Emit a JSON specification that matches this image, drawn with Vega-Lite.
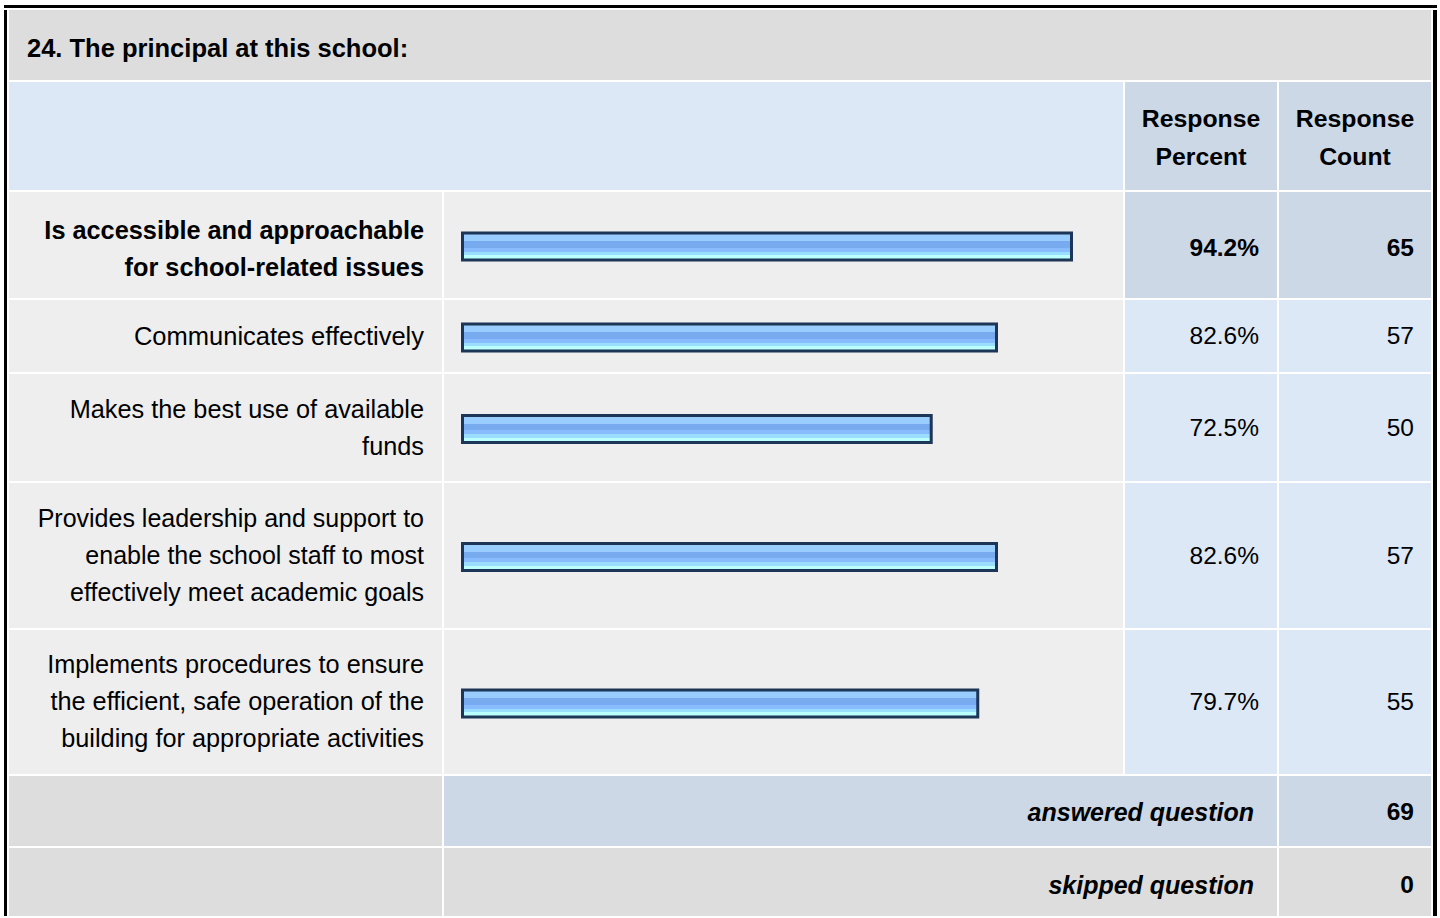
{
  "$schema": "https://vega.github.io/schema/vega-lite/v6.json",
  "background": "white",
  "padding": {"left": 4, "top": 5, "right": 0, "bottom": 0},
  "config": {"view": {"stroke": null}, "text": {"font": "Liberation Sans", "fill": "#000000"}},
  "datasets": {
    "items": [
      {"id": 1, "label": ["Is accessible and approachable", "for school-related issues"], "percent": 0.942, "count": 65},
      {"id": 2, "label": ["Communicates effectively"], "percent": 0.826, "count": 57},
      {"id": 3, "label": ["Makes the best use of available", "funds"], "percent": 0.725, "count": 50},
      {"id": 4, "label": ["Provides leadership and support to", "enable the school staff to most", "effectively meet academic goals"], "percent": 0.826, "count": 57},
      {"id": 5, "label": ["Implements procedures to ensure", "the efficient, safe operation of the", "building for appropriate activities"], "percent": 0.797, "count": 55}
    ],
    "title": [{"text": "24. The principal at this school:"}],
    "header": [{"col": "pct", "text": ["Response", "Percent"]}, {"col": "cnt", "text": ["Response", "Count"]}],
    "summary": [{"kind": "answered question", "count": 69}, {"kind": "skipped question", "count": 0}]
  },
  "spacing": 2,
  "vconcat": [
    {"width": 1433, "height": 3, "view": {"fill": "#000000", "stroke": null}, "data": {"values": []}, "mark": "text"},
    {
      "spacing": 2,
      "hconcat": [
        {"width": 3, "height": 906, "view": {"fill": "#000000", "stroke": null}, "data": {"values": []}, "mark": "text"},
        {
          "spacing": 2,
          "vconcat": [
            {"width": 1422, "height": 70, "view": {"fill": "#dddddd", "stroke": null}, "data": {"name": "title"},
             "mark": {"type": "text", "align": "left", "baseline": "middle", "dx": 18, "dy": 4, "fontSize": 25.5, "fontWeight": "bold"},
             "encoding": {"text": {"field": "text"},
               "x": {"datum": 0, "type": "quantitative", "scale": {"domain": [0, 1]}, "axis": null},
               "y": {"datum": 0.5, "type": "quantitative", "scale": {"domain": [0, 1]}, "axis": null}}},
            {"spacing": 2, "hconcat": [
              {"width": 1114, "height": 108, "view": {"fill": "#dce8f5", "stroke": null}, "data": {"values": []}, "mark": "text"},
              {"width": 152, "height": 108, "view": {"fill": "#ccd8e6", "stroke": null}, "data": {"name": "header"}, "transform": [{"filter": "datum.col == 'pct'"}],
               "mark": {"type": "text", "align": "center", "baseline": "middle", "dy": -16, "fontSize": 24.8, "fontWeight": "bold", "lineHeight": 38},
               "encoding": {"text": {"field": "text"},
                 "x": {"datum": 0.5, "type": "quantitative", "scale": {"domain": [0, 1]}, "axis": null},
                 "y": {"datum": 0.5, "type": "quantitative", "scale": {"domain": [0, 1]}, "axis": null}}},
              {"width": 152, "height": 108, "view": {"fill": "#ccd8e6", "stroke": null}, "data": {"name": "header"}, "transform": [{"filter": "datum.col == 'cnt'"}],
               "mark": {"type": "text", "align": "center", "baseline": "middle", "dy": -16, "fontSize": 24.8, "fontWeight": "bold", "lineHeight": 38},
               "encoding": {"text": {"field": "text"},
                 "x": {"datum": 0.5, "type": "quantitative", "scale": {"domain": [0, 1]}, "axis": null},
                 "y": {"datum": 0.5, "type": "quantitative", "scale": {"domain": [0, 1]}, "axis": null}}}
            ]},
            {"spacing": 2, "hconcat": [
              {"width": 433, "height": 106, "view": {"fill": "#eeeeee", "stroke": null}, "data": {"name": "items"}, "transform": [{"filter": "datum.id == 1"}],
               "mark": {"type": "text", "align": "right", "baseline": "middle", "dx": -18, "dy": -14.5, "fontSize": 25.3, "fontWeight": "bold", "lineHeight": 37},
               "encoding": {"text": {"field": "label"},
                 "x": {"datum": 1, "type": "quantitative", "scale": {"domain": [0, 1]}, "axis": null},
                 "y": {"datum": 0.5, "type": "quantitative", "scale": {"domain": [0, 1]}, "axis": null}}},
              {"width": 679, "height": 106, "view": {"fill": "#eeeeee", "stroke": null}, "data": {"name": "items"}, "transform": [{"filter": "datum.id == 1"}],
               "mark": {"type": "bar", "height": 27, "yOffset": 1.5, "stroke": "#1d3557", "strokeWidth": 3, "fill": {"gradient": "linear", "x1": 0, "y1": 0, "x2": 0, "y2": 1, "stops": [{"offset": 0, "color": "#99ccff"}, {"offset": 0.3, "color": "#99ccff"}, {"offset": 0.3, "color": "#77aaee"}, {"offset": 0.55, "color": "#77aaee"}, {"offset": 0.55, "color": "#88bbff"}, {"offset": 0.7, "color": "#88bbff"}, {"offset": 0.7, "color": "#99ddff"}, {"offset": 0.82, "color": "#99ddff"}, {"offset": 0.82, "color": "#bbffff"}, {"offset": 1, "color": "#bbffff"}]}},
               "encoding": {"x": {"field": "percent", "type": "quantitative", "scale": {"domain": [0, 1], "range": [18.5, 665]}, "axis": null},
                 "y": {"field": "id", "type": "nominal", "axis": null}}},
              {"width": 152, "height": 106, "view": {"fill": "#ccd8e6", "stroke": null}, "data": {"name": "items"}, "transform": [{"filter": "datum.id == 1"}],
               "mark": {"type": "text", "align": "right", "baseline": "middle", "dx": -18, "dy": 4, "fontSize": 24.5, "fontWeight": "bold"},
               "encoding": {"text": {"field": "percent", "type": "quantitative", "format": ".1%"},
                 "x": {"datum": 1, "type": "quantitative", "scale": {"domain": [0, 1]}, "axis": null},
                 "y": {"datum": 0.5, "type": "quantitative", "scale": {"domain": [0, 1]}, "axis": null}}},
              {"width": 152, "height": 106, "view": {"fill": "#ccd8e6", "stroke": null}, "data": {"name": "items"}, "transform": [{"filter": "datum.id == 1"}],
               "mark": {"type": "text", "align": "right", "baseline": "middle", "dx": -17, "dy": 4, "fontSize": 24.5, "fontWeight": "bold"},
               "encoding": {"text": {"field": "count", "type": "quantitative", "format": "d"},
                 "x": {"datum": 1, "type": "quantitative", "scale": {"domain": [0, 1]}, "axis": null},
                 "y": {"datum": 0.5, "type": "quantitative", "scale": {"domain": [0, 1]}, "axis": null}}}
            ]},
            {"spacing": 2, "hconcat": [
              {"width": 433, "height": 72, "view": {"fill": "#eeeeee", "stroke": null}, "data": {"name": "items"}, "transform": [{"filter": "datum.id == 2"}],
               "mark": {"type": "text", "align": "right", "baseline": "middle", "dx": -18, "dy": 1, "fontSize": 25.5, "lineHeight": 37},
               "encoding": {"text": {"field": "label"},
                 "x": {"datum": 1, "type": "quantitative", "scale": {"domain": [0, 1]}, "axis": null},
                 "y": {"datum": 0.5, "type": "quantitative", "scale": {"domain": [0, 1]}, "axis": null}}},
              {"width": 679, "height": 72, "view": {"fill": "#eeeeee", "stroke": null}, "data": {"name": "items"}, "transform": [{"filter": "datum.id == 2"}],
               "mark": {"type": "bar", "height": 27, "yOffset": 1.5, "stroke": "#1d3557", "strokeWidth": 3, "fill": {"gradient": "linear", "x1": 0, "y1": 0, "x2": 0, "y2": 1, "stops": [{"offset": 0, "color": "#99ccff"}, {"offset": 0.3, "color": "#99ccff"}, {"offset": 0.3, "color": "#77aaee"}, {"offset": 0.55, "color": "#77aaee"}, {"offset": 0.55, "color": "#88bbff"}, {"offset": 0.7, "color": "#88bbff"}, {"offset": 0.7, "color": "#99ddff"}, {"offset": 0.82, "color": "#99ddff"}, {"offset": 0.82, "color": "#bbffff"}, {"offset": 1, "color": "#bbffff"}]}},
               "encoding": {"x": {"field": "percent", "type": "quantitative", "scale": {"domain": [0, 1], "range": [18.5, 665]}, "axis": null},
                 "y": {"field": "id", "type": "nominal", "axis": null}}},
              {"width": 152, "height": 72, "view": {"fill": "#dce8f5", "stroke": null}, "data": {"name": "items"}, "transform": [{"filter": "datum.id == 2"}],
               "mark": {"type": "text", "align": "right", "baseline": "middle", "dx": -18, "dy": 1, "fontSize": 24.5},
               "encoding": {"text": {"field": "percent", "type": "quantitative", "format": ".1%"},
                 "x": {"datum": 1, "type": "quantitative", "scale": {"domain": [0, 1]}, "axis": null},
                 "y": {"datum": 0.5, "type": "quantitative", "scale": {"domain": [0, 1]}, "axis": null}}},
              {"width": 152, "height": 72, "view": {"fill": "#dce8f5", "stroke": null}, "data": {"name": "items"}, "transform": [{"filter": "datum.id == 2"}],
               "mark": {"type": "text", "align": "right", "baseline": "middle", "dx": -17, "dy": 1, "fontSize": 24.5},
               "encoding": {"text": {"field": "count", "type": "quantitative", "format": "d"},
                 "x": {"datum": 1, "type": "quantitative", "scale": {"domain": [0, 1]}, "axis": null},
                 "y": {"datum": 0.5, "type": "quantitative", "scale": {"domain": [0, 1]}, "axis": null}}}
            ]},
            {"spacing": 2, "hconcat": [
              {"width": 433, "height": 107, "view": {"fill": "#eeeeee", "stroke": null}, "data": {"name": "items"}, "transform": [{"filter": "datum.id == 3"}],
               "mark": {"type": "text", "align": "right", "baseline": "middle", "dx": -18, "dy": -18, "fontSize": 25.3, "lineHeight": 37},
               "encoding": {"text": {"field": "label"},
                 "x": {"datum": 1, "type": "quantitative", "scale": {"domain": [0, 1]}, "axis": null},
                 "y": {"datum": 0.5, "type": "quantitative", "scale": {"domain": [0, 1]}, "axis": null}}},
              {"width": 679, "height": 107, "view": {"fill": "#eeeeee", "stroke": null}, "data": {"name": "items"}, "transform": [{"filter": "datum.id == 3"}],
               "mark": {"type": "bar", "height": 27, "yOffset": 1.5, "stroke": "#1d3557", "strokeWidth": 3, "fill": {"gradient": "linear", "x1": 0, "y1": 0, "x2": 0, "y2": 1, "stops": [{"offset": 0, "color": "#99ccff"}, {"offset": 0.3, "color": "#99ccff"}, {"offset": 0.3, "color": "#77aaee"}, {"offset": 0.55, "color": "#77aaee"}, {"offset": 0.55, "color": "#88bbff"}, {"offset": 0.7, "color": "#88bbff"}, {"offset": 0.7, "color": "#99ddff"}, {"offset": 0.82, "color": "#99ddff"}, {"offset": 0.82, "color": "#bbffff"}, {"offset": 1, "color": "#bbffff"}]}},
               "encoding": {"x": {"field": "percent", "type": "quantitative", "scale": {"domain": [0, 1], "range": [18.5, 665]}, "axis": null},
                 "y": {"field": "id", "type": "nominal", "axis": null}}},
              {"width": 152, "height": 107, "view": {"fill": "#dce8f5", "stroke": null}, "data": {"name": "items"}, "transform": [{"filter": "datum.id == 3"}],
               "mark": {"type": "text", "align": "right", "baseline": "middle", "dx": -18, "dy": 1, "fontSize": 24.5},
               "encoding": {"text": {"field": "percent", "type": "quantitative", "format": ".1%"},
                 "x": {"datum": 1, "type": "quantitative", "scale": {"domain": [0, 1]}, "axis": null},
                 "y": {"datum": 0.5, "type": "quantitative", "scale": {"domain": [0, 1]}, "axis": null}}},
              {"width": 152, "height": 107, "view": {"fill": "#dce8f5", "stroke": null}, "data": {"name": "items"}, "transform": [{"filter": "datum.id == 3"}],
               "mark": {"type": "text", "align": "right", "baseline": "middle", "dx": -17, "dy": 1, "fontSize": 24.5},
               "encoding": {"text": {"field": "count", "type": "quantitative", "format": "d"},
                 "x": {"datum": 1, "type": "quantitative", "scale": {"domain": [0, 1]}, "axis": null},
                 "y": {"datum": 0.5, "type": "quantitative", "scale": {"domain": [0, 1]}, "axis": null}}}
            ]},
            {"spacing": 2, "hconcat": [
              {"width": 433, "height": 145, "view": {"fill": "#eeeeee", "stroke": null}, "data": {"name": "items"}, "transform": [{"filter": "datum.id == 4"}],
               "mark": {"type": "text", "align": "right", "baseline": "middle", "dx": -18, "dy": -37, "fontSize": 25, "lineHeight": 37},
               "encoding": {"text": {"field": "label"},
                 "x": {"datum": 1, "type": "quantitative", "scale": {"domain": [0, 1]}, "axis": null},
                 "y": {"datum": 0.5, "type": "quantitative", "scale": {"domain": [0, 1]}, "axis": null}}},
              {"width": 679, "height": 145, "view": {"fill": "#eeeeee", "stroke": null}, "data": {"name": "items"}, "transform": [{"filter": "datum.id == 4"}],
               "mark": {"type": "bar", "height": 27, "yOffset": 1.5, "stroke": "#1d3557", "strokeWidth": 3, "fill": {"gradient": "linear", "x1": 0, "y1": 0, "x2": 0, "y2": 1, "stops": [{"offset": 0, "color": "#99ccff"}, {"offset": 0.3, "color": "#99ccff"}, {"offset": 0.3, "color": "#77aaee"}, {"offset": 0.55, "color": "#77aaee"}, {"offset": 0.55, "color": "#88bbff"}, {"offset": 0.7, "color": "#88bbff"}, {"offset": 0.7, "color": "#99ddff"}, {"offset": 0.82, "color": "#99ddff"}, {"offset": 0.82, "color": "#bbffff"}, {"offset": 1, "color": "#bbffff"}]}},
               "encoding": {"x": {"field": "percent", "type": "quantitative", "scale": {"domain": [0, 1], "range": [18.5, 665]}, "axis": null},
                 "y": {"field": "id", "type": "nominal", "axis": null}}},
              {"width": 152, "height": 145, "view": {"fill": "#dce8f5", "stroke": null}, "data": {"name": "items"}, "transform": [{"filter": "datum.id == 4"}],
               "mark": {"type": "text", "align": "right", "baseline": "middle", "dx": -18, "dy": 1, "fontSize": 24.5},
               "encoding": {"text": {"field": "percent", "type": "quantitative", "format": ".1%"},
                 "x": {"datum": 1, "type": "quantitative", "scale": {"domain": [0, 1]}, "axis": null},
                 "y": {"datum": 0.5, "type": "quantitative", "scale": {"domain": [0, 1]}, "axis": null}}},
              {"width": 152, "height": 145, "view": {"fill": "#dce8f5", "stroke": null}, "data": {"name": "items"}, "transform": [{"filter": "datum.id == 4"}],
               "mark": {"type": "text", "align": "right", "baseline": "middle", "dx": -17, "dy": 1, "fontSize": 24.5},
               "encoding": {"text": {"field": "count", "type": "quantitative", "format": "d"},
                 "x": {"datum": 1, "type": "quantitative", "scale": {"domain": [0, 1]}, "axis": null},
                 "y": {"datum": 0.5, "type": "quantitative", "scale": {"domain": [0, 1]}, "axis": null}}}
            ]},
            {"spacing": 2, "hconcat": [
              {"width": 433, "height": 144, "view": {"fill": "#eeeeee", "stroke": null}, "data": {"name": "items"}, "transform": [{"filter": "datum.id == 5"}],
               "mark": {"type": "text", "align": "right", "baseline": "middle", "dx": -18, "dy": -37, "fontSize": 25.3, "lineHeight": 37},
               "encoding": {"text": {"field": "label"},
                 "x": {"datum": 1, "type": "quantitative", "scale": {"domain": [0, 1]}, "axis": null},
                 "y": {"datum": 0.5, "type": "quantitative", "scale": {"domain": [0, 1]}, "axis": null}}},
              {"width": 679, "height": 144, "view": {"fill": "#eeeeee", "stroke": null}, "data": {"name": "items"}, "transform": [{"filter": "datum.id == 5"}],
               "mark": {"type": "bar", "height": 27, "yOffset": 1.5, "stroke": "#1d3557", "strokeWidth": 3, "fill": {"gradient": "linear", "x1": 0, "y1": 0, "x2": 0, "y2": 1, "stops": [{"offset": 0, "color": "#99ccff"}, {"offset": 0.3, "color": "#99ccff"}, {"offset": 0.3, "color": "#77aaee"}, {"offset": 0.55, "color": "#77aaee"}, {"offset": 0.55, "color": "#88bbff"}, {"offset": 0.7, "color": "#88bbff"}, {"offset": 0.7, "color": "#99ddff"}, {"offset": 0.82, "color": "#99ddff"}, {"offset": 0.82, "color": "#bbffff"}, {"offset": 1, "color": "#bbffff"}]}},
               "encoding": {"x": {"field": "percent", "type": "quantitative", "scale": {"domain": [0, 1], "range": [18.5, 665]}, "axis": null},
                 "y": {"field": "id", "type": "nominal", "axis": null}}},
              {"width": 152, "height": 144, "view": {"fill": "#dce8f5", "stroke": null}, "data": {"name": "items"}, "transform": [{"filter": "datum.id == 5"}],
               "mark": {"type": "text", "align": "right", "baseline": "middle", "dx": -18, "dy": 1, "fontSize": 24.5},
               "encoding": {"text": {"field": "percent", "type": "quantitative", "format": ".1%"},
                 "x": {"datum": 1, "type": "quantitative", "scale": {"domain": [0, 1]}, "axis": null},
                 "y": {"datum": 0.5, "type": "quantitative", "scale": {"domain": [0, 1]}, "axis": null}}},
              {"width": 152, "height": 144, "view": {"fill": "#dce8f5", "stroke": null}, "data": {"name": "items"}, "transform": [{"filter": "datum.id == 5"}],
               "mark": {"type": "text", "align": "right", "baseline": "middle", "dx": -17, "dy": 1, "fontSize": 24.5},
               "encoding": {"text": {"field": "count", "type": "quantitative", "format": "d"},
                 "x": {"datum": 1, "type": "quantitative", "scale": {"domain": [0, 1]}, "axis": null},
                 "y": {"datum": 0.5, "type": "quantitative", "scale": {"domain": [0, 1]}, "axis": null}}}
            ]},
            {"spacing": 2, "hconcat": [
              {"width": 433, "height": 70, "view": {"fill": "#dddddd", "stroke": null}, "data": {"values": []}, "mark": "text"},
              {"width": 833, "height": 70, "view": {"fill": "#ccd8e6", "stroke": null}, "data": {"name": "summary"}, "transform": [{"filter": "datum.kind == 'answered question'"}],
               "mark": {"type": "text", "align": "right", "baseline": "middle", "dx": -23, "dy": 2, "fontSize": 25, "fontWeight": "bold", "fontStyle": "italic"},
               "encoding": {"text": {"field": "kind"},
                 "x": {"datum": 1, "type": "quantitative", "scale": {"domain": [0, 1]}, "axis": null},
                 "y": {"datum": 0.5, "type": "quantitative", "scale": {"domain": [0, 1]}, "axis": null}}},
              {"width": 152, "height": 70, "view": {"fill": "#ccd8e6", "stroke": null}, "data": {"name": "summary"}, "transform": [{"filter": "datum.kind == 'answered question'"}],
               "mark": {"type": "text", "align": "right", "baseline": "middle", "dx": -17, "dy": 2, "fontSize": 24.5, "fontWeight": "bold"},
               "encoding": {"text": {"field": "count", "type": "quantitative", "format": "d"},
                 "x": {"datum": 1, "type": "quantitative", "scale": {"domain": [0, 1]}, "axis": null},
                 "y": {"datum": 0.5, "type": "quantitative", "scale": {"domain": [0, 1]}, "axis": null}}}
            ]},
            {"spacing": 2, "hconcat": [
              {"width": 433, "height": 68, "view": {"fill": "#dddddd", "stroke": null}, "data": {"values": []}, "mark": "text"},
              {"width": 833, "height": 68, "view": {"fill": "#dddddd", "stroke": null}, "data": {"name": "summary"}, "transform": [{"filter": "datum.kind == 'skipped question'"}],
               "mark": {"type": "text", "align": "right", "baseline": "middle", "dx": -23, "dy": 4, "fontSize": 25, "fontWeight": "bold", "fontStyle": "italic"},
               "encoding": {"text": {"field": "kind"},
                 "x": {"datum": 1, "type": "quantitative", "scale": {"domain": [0, 1]}, "axis": null},
                 "y": {"datum": 0.5, "type": "quantitative", "scale": {"domain": [0, 1]}, "axis": null}}},
              {"width": 152, "height": 68, "view": {"fill": "#dddddd", "stroke": null}, "data": {"name": "summary"}, "transform": [{"filter": "datum.kind == 'skipped question'"}],
               "mark": {"type": "text", "align": "right", "baseline": "middle", "dx": -17, "dy": 4, "fontSize": 24.5, "fontWeight": "bold"},
               "encoding": {"text": {"field": "count", "type": "quantitative", "format": "d"},
                 "x": {"datum": 1, "type": "quantitative", "scale": {"domain": [0, 1]}, "axis": null},
                 "y": {"datum": 0.5, "type": "quantitative", "scale": {"domain": [0, 1]}, "axis": null}}}
            ]}
          ]
        },
        {"width": 4, "height": 906, "view": {"fill": "#000000", "stroke": null}, "data": {"values": []}, "mark": "text"}
      ]
    }
  ]
}
